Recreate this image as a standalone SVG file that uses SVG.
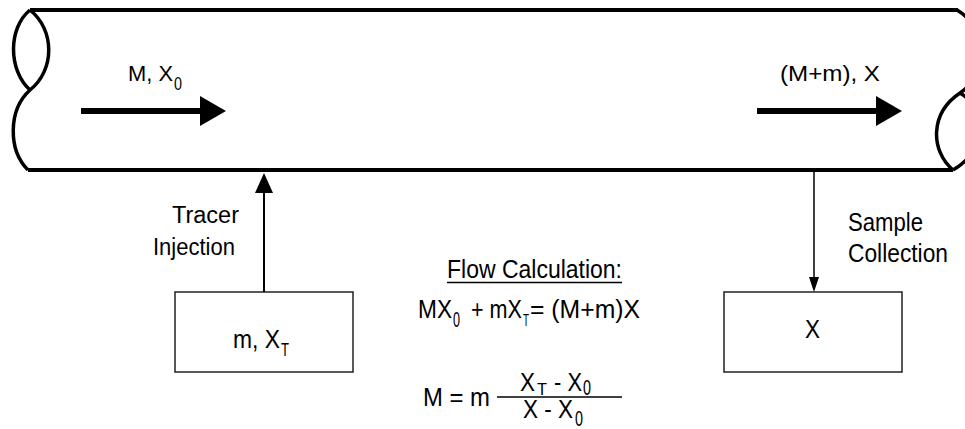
<svg xmlns="http://www.w3.org/2000/svg" width="965" height="429" viewBox="0 0 965 429">
<style>
  text { font-family: "Liberation Sans", Arial, sans-serif; fill: #000; }
  .pipe { fill: none; stroke: #000; stroke-width: 4; }
  .pend { fill: none; stroke: #000; stroke-width: 3.5; }
  .box { fill: #fff; stroke: #222; stroke-width: 1.5; }
  .thick { stroke: #000; stroke-width: 6; fill: none; }
  .thin { stroke: #000; fill: none; }
  .rule { stroke: #000; stroke-width: 1.5; }
</style>
<defs>
  <marker id="bigHead" markerUnits="userSpaceOnUse" markerWidth="26" markerHeight="30" viewBox="0 0 26 30" refX="0" refY="15" orient="auto">
    <path d="M0,0 L26,15 L0,30 Z" fill="#000"/>
  </marker>
  <marker id="midHead" markerUnits="userSpaceOnUse" markerWidth="20" markerHeight="18" viewBox="0 0 20 18" refX="0" refY="9" orient="auto">
    <path d="M0,0 L20,9 L0,18 Z" fill="#000"/>
  </marker>
  <marker id="smallHead" markerUnits="userSpaceOnUse" markerWidth="15" markerHeight="10" viewBox="0 0 15 10" refX="0" refY="5" orient="auto">
    <path d="M0,0 L15,5 L0,10 Z" fill="#000"/>
  </marker>
</defs>
<rect width="965" height="429" fill="#fff"/>

<g id="pipe">
  <line class="pipe" x1="30" y1="10" x2="958" y2="10"/>
  <line class="pipe" x1="28" y1="170" x2="953" y2="170"/>
  <path class="pend" d="M30,10 C55,30 55,70 30,90 C8,110 8,150 28,170"/>
  <path class="pend" d="M30,10 C8,28 8,70 30,90"/>
  <path class="pend" d="M957,10 C990,30 990,72 960,93 C930,113 930,150 953,170"/>
  <path class="pend" d="M960,93 C988,110 988,150 953,170"/>
</g>

<g id="flow-in">
  <text font-size="22"><tspan x="128" y="81" textLength="45" lengthAdjust="spacingAndGlyphs">M, X</tspan><tspan x="174" y="90" font-size="19" textLength="8" lengthAdjust="spacingAndGlyphs">0</tspan></text>
</g>

<g id="flow-out">
  <text x="780" y="81" font-size="22" textLength="100" lengthAdjust="spacingAndGlyphs">(M+m), X</text>
</g>

<g id="tracer-box">
  <rect class="box" x="175" y="292" width="178" height="80"/>
  <text font-size="26"><tspan x="233" y="348" textLength="47" lengthAdjust="spacingAndGlyphs">m, X</tspan><tspan x="281" y="356" font-size="18" textLength="8" lengthAdjust="spacingAndGlyphs">T</tspan></text>
</g>

<g id="sample-box">
  <rect class="box" x="724" y="292" width="178" height="80"/>
  <text x="805" y="338" font-size="26" textLength="15" lengthAdjust="spacingAndGlyphs">X</text>
</g>

<g id="tracer-label">
  <text x="172" y="223" font-size="23" textLength="67" lengthAdjust="spacingAndGlyphs">Tracer</text>
  <text x="153" y="255" font-size="23" textLength="82" lengthAdjust="spacingAndGlyphs">Injection</text>
</g>

<g id="sample-label">
  <text x="848" y="231" font-size="25" textLength="75" lengthAdjust="spacingAndGlyphs">Sample</text>
  <text x="848" y="262" font-size="25" textLength="100" lengthAdjust="spacingAndGlyphs">Collection</text>
</g>

<g id="formula">
  <text x="447" y="278" font-size="25" textLength="175" lengthAdjust="spacingAndGlyphs">Flow Calculation:</text>
  <line class="rule" x1="447" y1="282.5" x2="622" y2="282.5"/>

  <text font-size="25"><tspan x="418" y="318" textLength="34" lengthAdjust="spacingAndGlyphs">MX</tspan><tspan x="453" y="327" font-size="22" textLength="7" lengthAdjust="spacingAndGlyphs">0</tspan><tspan x="471" y="318" textLength="51" lengthAdjust="spacingAndGlyphs">+ mX</tspan><tspan x="523" y="326" font-size="17" textLength="6" lengthAdjust="spacingAndGlyphs">T</tspan><tspan x="530" y="318" textLength="110" lengthAdjust="spacingAndGlyphs">= (M+m)X</tspan></text>

  <text x="423" y="406" font-size="25" textLength="67" lengthAdjust="spacingAndGlyphs">M = m</text>
  <line class="rule" x1="497" y1="397" x2="622" y2="397"/>
  <text font-size="25"><tspan x="520" y="391" textLength="15" lengthAdjust="spacingAndGlyphs">X</tspan><tspan x="537" y="395" font-size="17" textLength="10" lengthAdjust="spacingAndGlyphs">T</tspan><tspan x="554" y="391" textLength="28" lengthAdjust="spacingAndGlyphs">- X</tspan><tspan x="583" y="395" font-size="22" textLength="8" lengthAdjust="spacingAndGlyphs">0</tspan></text>
  <text font-size="25"><tspan x="523" y="418" textLength="50" lengthAdjust="spacingAndGlyphs">X - X</tspan><tspan x="575" y="426" font-size="22" textLength="8" lengthAdjust="spacingAndGlyphs">0</tspan></text>
</g>

<g id="connectors">
  <line class="thick" x1="81" y1="111" x2="200" y2="111" marker-end="url(#bigHead)"/>
  <line class="thick" x1="757" y1="111" x2="876" y2="111" marker-end="url(#bigHead)"/>
  <line class="thin" stroke-width="2" x1="264" y1="292" x2="264" y2="193" marker-end="url(#midHead)"/>
  <line class="thin" stroke-width="1.5" x1="814" y1="172" x2="814" y2="277" marker-end="url(#smallHead)"/>
</g>
</svg>
